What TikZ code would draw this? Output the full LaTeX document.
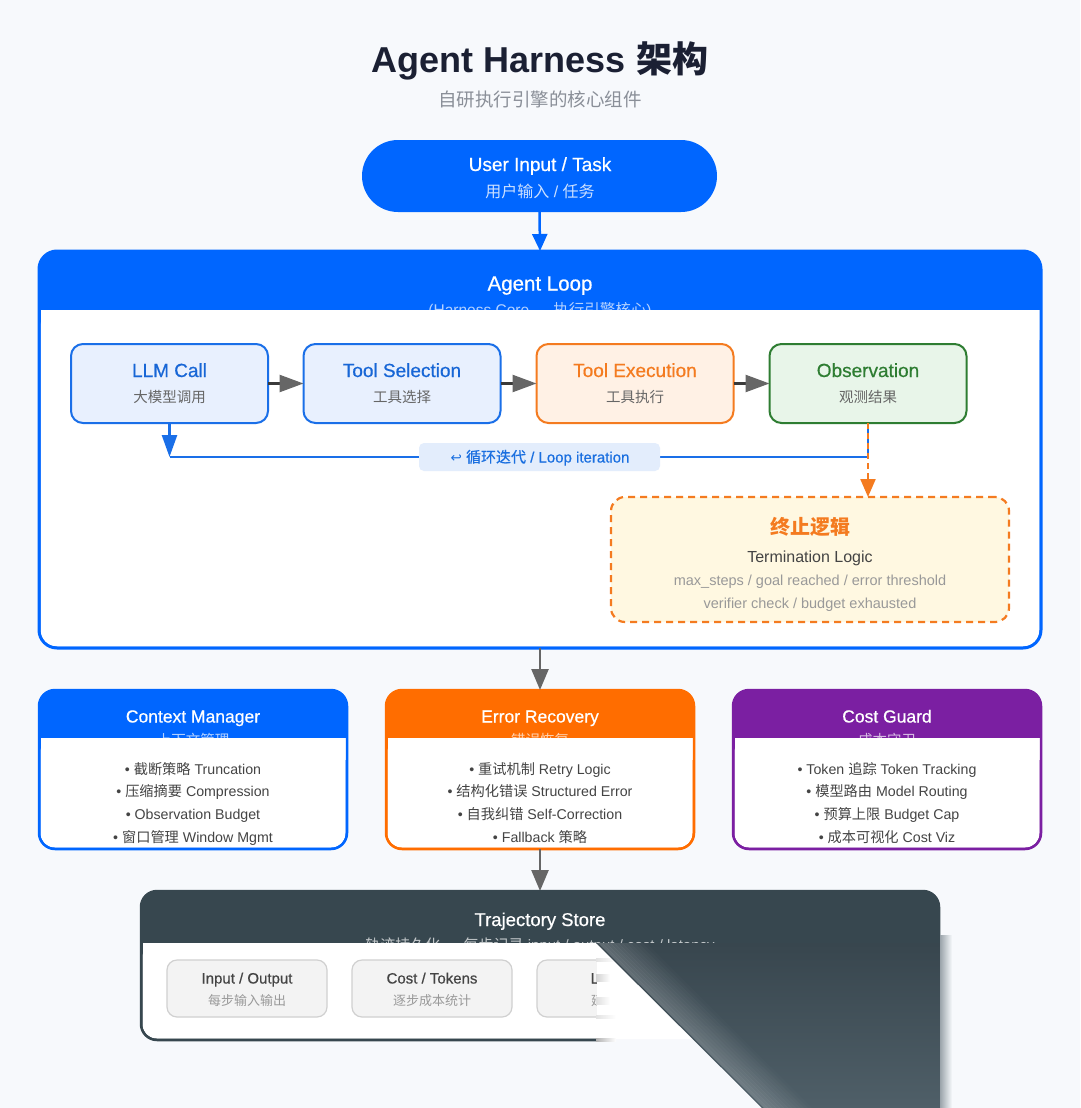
\documentclass[tikz,border=0pt]{standalone}
\usepackage{fontspec}
\setmainfont{Liberation Sans}
\newfontfamily\cjk{Noto Sans CJK SC}
\newfontfamily\medfont{Liberation Sans}[FakeBold=0.6]
\newfontfamily\cjkmed{Noto Sans CJK SC}[FakeBold=0.6]
\newfontfamily\arrowfont{DejaVu Sans}
\usetikzlibrary{arrows.meta}
\definecolor{bgc}{HTML}{F7F9FC}
\definecolor{titlec}{HTML}{1B2033}
\definecolor{subc}{HTML}{8A8F98}
\definecolor{hblue}{HTML}{0066FF}
\definecolor{iblue}{HTML}{1A6FE8}
\definecolor{iblueT}{HTML}{1766D6}
\definecolor{iblueF}{HTML}{E8F0FE}
\definecolor{horange}{HTML}{FF6D00}
\definecolor{iorange}{HTML}{F47B20}
\definecolor{iorangeF}{HTML}{FFF1E5}
\definecolor{igreen}{HTML}{2E7D32}
\definecolor{igreenF}{HTML}{E8F5E9}
\definecolor{hpurple}{HTML}{7B1FA2}
\definecolor{slate}{HTML}{37474F}
\definecolor{cream}{HTML}{FFF8E1}
\definecolor{lblF}{HTML}{E3EDFC}
\definecolor{lblT}{HTML}{1A6FE0}
\definecolor{bodyT}{HTML}{444444}
\definecolor{grayT}{HTML}{666666}
\definecolor{lightT}{HTML}{999999}
\definecolor{arrG}{HTML}{666666}
\definecolor{arrD}{HTML}{3A3A3A}
\definecolor{boxG}{HTML}{F3F3F3}
\definecolor{boxB}{HTML}{D0D0D0}
\definecolor{curlA}{HTML}{38464E}
\definecolor{curlB}{HTML}{4F5F68}
\newcommand\fsz[1]{\fontsize{#1pt}{#1pt}\selectfont}
\tikzset{
  txt/.style={inner sep=0pt, outer sep=0pt, anchor=base},
  panel/.style={outer sep=0pt, inner sep=0pt, anchor=north west},
  stepcard/.style={rounded corners=12pt, line width=2pt, minimum width=197pt, minimum height=79pt, inner sep=0pt, outer sep=0pt},
  flowarrow/.style={arrD, line width=2.5pt, -{Triangle[length=24pt,width=17pt,color=arrG]}},
  sectarrow/.style={arrG, line width=2.5pt, -{Triangle[length=21pt,width=17pt,color=arrG]}},
  bullet/.style={txt, text=bodyT, font=\fsz{14.2}},
  htitle/.style={txt, text=white, font=\medfont\fsz{17.5}},
  hsub/.style={txt, text=white, text opacity=0.7, font=\fsz{14.5}},
  cardtitle/.style={txt, font=\medfont\fsz{19}},
  cardsub/.style={txt, text=grayT, font=\cjk\fsz{14.5}},
  tcard/.style={rounded corners=10pt, line width=1.2pt, draw=boxB, fill=boxG, minimum width=160pt, minimum height=57pt, inner sep=0pt, outer sep=0pt},
}
\begin{document}
\begin{tikzpicture}[x=1pt,y=-1pt]
\useasboundingbox (0,0) rectangle (1080,1108);
\fill[bgc] (0,0) rectangle (1080,1108);

% title
\node[txt, text=titlec, font=\fsz{36}\bfseries] (title) at (540,73) {Agent Harness {\cjk\bfseries 架构}};
\node[txt, text=subc, font=\cjk\fsz{18.5}] (subtitle) at (540,106) {自研执行引擎的核心组件};

% user input pill
\node[fill=hblue, rounded corners=36pt, minimum width=355pt, minimum height=72pt, inner sep=0pt, outer sep=0pt] (user) at (539.5,176) {};
\node[txt, text=white, font=\medfont\fsz{19}] (userA) at (540,171) {User Input / Task};
\node[txt, text=white, text opacity=0.8, font=\fsz{16}] (userB) at (540,197) {{\cjk 用户输入} / {\cjk 任务}};

% agent loop panel
\node[panel, fill=hblue, rounded corners=18pt, minimum width=1002pt, minimum height=397pt] (loop) at (39,251) {};
\node[txt, text=white, font=\medfont\fsz{20.5}] (loopT) at (540,290.5) {Agent Loop};
\node[hsub, font=\fsz{15.5}] (loopS) at (540,315) {(Harness Core — {\cjk 执行引擎核心})};
\fill[white, rounded corners=16pt] (40.5,310) rectangle (1039.5,646.5);
\fill[white] (40.5,310) rectangle (1039.5,340);
\draw[hblue, line width=3pt, rounded corners=18pt] (loop.north west) rectangle (loop.south east);

\draw[hblue, line width=2.5pt, -{Triangle[length=17pt,width=15pt]}] (user.south) -- (loop.north);

% step cards
\node[stepcard, draw=iblue, fill=iblueF] (llm) at (169.5,383.5) {};
\node[stepcard, draw=iblue, fill=iblueF] (sel) at (402,383.5) {};
\node[stepcard, draw=iorange, fill=iorangeF] (exe) at (635,383.5) {};
\node[stepcard, draw=igreen, fill=igreenF] (obs) at (868,383.5) {};
\node[cardtitle, text=iblueT] (llmA) at (169.5,377) {LLM Call};
\node[cardsub] (llmB) at (169.5,402.5) {大模型调用};
\node[cardtitle, text=iblueT] (selA) at (402,377) {Tool Selection};
\node[cardsub] (selB) at (402,402.5) {工具选择};
\node[cardtitle, text=iorange] (exeA) at (635,377) {Tool Execution};
\node[cardsub] (exeB) at (635,402.5) {工具执行};
\node[cardtitle, text=igreen] (obsA) at (868,377) {Observation};
\node[cardsub] (obsB) at (868,402.5) {观测结果};

\draw[flowarrow] (llm.east) -- (sel.west);
\draw[flowarrow] (sel.east) -- (exe.west);
\draw[flowarrow] (exe.east) -- (obs.west);

% loop back line
\coordinate (lc) at (169.5,457);
\coordinate (oc) at (868,457);
\draw[iblue, line width=2.5pt] (obs.south) -- (oc) -- (lc);
\draw[iblue, line width=2.5pt, -{Triangle[length=22pt,width=15pt]}] (llm.south) -- (lc);
\node[fill=lblF, rounded corners=5pt, minimum width=241pt, minimum height=28pt, inner sep=0pt] (lbl) at (539.5,457) {};
\node[txt, text=lblT, font=\medfont\fsz{15}] (lblT) at (540,462.5) {{\arrowfont\fsz{13.5}↩} {\cjkmed 循环迭代} / Loop iteration};

% termination
\node[draw=iorange, dash pattern=on 7pt off 5pt, line width=2.2pt, fill=cream, rounded corners=14pt, minimum width=398pt, minimum height=125pt, inner sep=0pt, outer sep=0pt] (term) at (810,559.5) {};
\draw[iorange, line width=2.2pt, dash pattern=on 6pt off 4pt, -{Triangle[length=18pt,width=15pt]}] (obs.south) -- (obs.south |- term.north);
\node[txt, text=iorange, font=\cjk\bfseries\fsz{20}] (termA) at (810,534.5) {终止逻辑};
\node[txt, text=bodyT, font=\fsz{16}] (termB) at (810,562) {Termination Logic};
\node[txt, text=lightT, font=\fsz{14.5}] (termC) at (810,585.5) {max\_steps / goal reached / error threshold};
\node[txt, text=lightT, font=\fsz{14.5}] (termD) at (810,608.5) {verifier check / budget exhausted};

% three module panels
\node[panel, fill=hblue, rounded corners=16pt, minimum width=308pt, minimum height=159pt] (ctx) at (39,690) {};
\node[panel, fill=horange, rounded corners=16pt, minimum width=308pt, minimum height=159pt] (err) at (386,690) {};
\node[panel, fill=hpurple, rounded corners=16pt, minimum width=308pt, minimum height=159pt] (cost) at (733,690) {};
\node[htitle] (ctxT) at (193,722.5) {Context Manager};
\node[hsub, font=\cjk\fsz{14.5}] (ctxS) at (193,745) {上下文管理};
\node[htitle] (errT) at (540,722.5) {Error Recovery};
\node[hsub, font=\cjk\fsz{14.5}] (errS) at (540,745) {错误恢复};
\node[htitle] (costT) at (887,722.5) {Cost Guard};
\node[hsub, font=\cjk\fsz{14.5}] (costS) at (887,745) {成本守卫};
\foreach \l/\r in {40.5/345.5, 387.5/692.5, 734.5/1039.5}{
  \fill[white, rounded corners=14pt] (\l,738) rectangle (\r,847.5);
  \fill[white] (\l,738) rectangle (\r,760);
}
\draw[hblue, line width=2.5pt, rounded corners=16pt] (ctx.north west) rectangle (ctx.south east);
\draw[horange, line width=2.5pt, rounded corners=16pt] (err.north west) rectangle (err.south east);
\draw[hpurple, line width=2.5pt, rounded corners=16pt] (cost.north west) rectangle (cost.south east);

\node[bullet] (c1) at (193,774) {• {\cjk 截断策略} Truncation};
\node[bullet] (c2) at (193,796.5) {• {\cjk 压缩摘要} Compression};
\node[bullet] (c3) at (193,819) {• Observation Budget};
\node[bullet] (c4) at (193,842) {• {\cjk 窗口管理} Window Mgmt};
\node[bullet] (e1) at (540,774) {• {\cjk 重试机制} Retry Logic};
\node[bullet] (e2) at (540,796.5) {• {\cjk 结构化错误} Structured Error};
\node[bullet] (e3) at (540,819) {• {\cjk 自我纠错} Self-Correction};
\node[bullet] (e4) at (540,842) {• Fallback {\cjk 策略}};
\node[bullet] (g1) at (887,774) {• Token {\cjk 追踪} Token Tracking};
\node[bullet] (g2) at (887,796.5) {• {\cjk 模型路由} Model Routing};
\node[bullet] (g3) at (887,819) {• {\cjk 预算上限} Budget Cap};
\node[bullet] (g4) at (887,842) {• {\cjk 成本可视化} Cost Viz};

\draw[sectarrow] (loop.south) -- (err.north);

% trajectory store
\node[panel, fill=slate, rounded corners=16pt, minimum width=798pt, minimum height=149pt] (traj) at (141,891) {};
\draw[sectarrow] (err.south) -- (traj.north);
\node[txt, text=white, font=\medfont\fsz{18.5}] (trajT) at (540,926) {Trajectory Store};
\node[hsub, font=\fsz{15}] (trajS) at (540,950) {{\cjk 轨迹持久化} — {\cjk 每步记录} input / output / cost / latency};
\fill[white, rounded corners=14pt] (142.5,943) rectangle (937.5,1038.5);
\fill[white] (142.5,943) rectangle (937.5,965);
\draw[slate, line width=2.5pt, rounded corners=16pt] (traj.north west) rectangle (traj.south east);

\node[tcard] (io) at (247,988.5) {};
\node[tcard] (ct) at (432,988.5) {};
\node[tcard] (lt) at (617,988.5) {};
\node[txt, text=bodyT, font=\medfont\fsz{15}] (ioA) at (247,983.5) {Input / Output};
\node[txt, text=lightT, font=\cjk\fsz{13}] (ioB) at (247,1005.5) {每步输入输出};
\node[txt, text=bodyT, font=\medfont\fsz{15}] (ctA) at (432,983.5) {Cost / Tokens};
\node[txt, text=lightT, font=\cjk\fsz{13}] (ctB) at (432,1005.5) {逐步成本统计};
\node[txt, text=bodyT, font=\medfont\fsz{15}] (ltA) at (617,983.5) {Latency};
\node[txt, text=lightT, font=\cjk\fsz{13}] (ltB) at (617,1005.5) {延迟统计};

% page curl artefact
\fill[bgc] (597,943) -- (762,1108) -- (597,1108) -- cycle;
\fill[white] (597,943) -- (693,1039) -- (597,1039) -- cycle;
\foreach \yy/\cc in {960/boxB, 1017/boxB, 1039.5/gray}{
  \shade[left color=\cc!60!white, right color=white] (596,\yy-1.5) rectangle (616,\yy+1.5);
}
\shade[left color=gray!35, right color=white] (596,974) rectangle (610,981);
\shade[left color=gray!25, right color=white] (596,997) rectangle (610,1004);
\shade[top color=curlA, bottom color=curlB] (596,943) -- (940,943) -- (940,1108) -- (762,1108) -- cycle;
\foreach \i in {0,...,11}{
  \pgfmathsetmacro\oa{2+4*\i}
  \pgfmathsetmacro\ob{6+4*\i}
  \pgfmathsetmacro\op{0.2*(1-\i/12)}
  \fill[white, opacity=\op] (596+\oa,943) -- (596+\ob,943) -- (762+\ob,1108) -- (762+\oa,1108) -- cycle;
}
\shade[left color=curlB!55!bgc, right color=bgc] (940,935) rectangle (952,1108);
\end{tikzpicture}
\end{document}
